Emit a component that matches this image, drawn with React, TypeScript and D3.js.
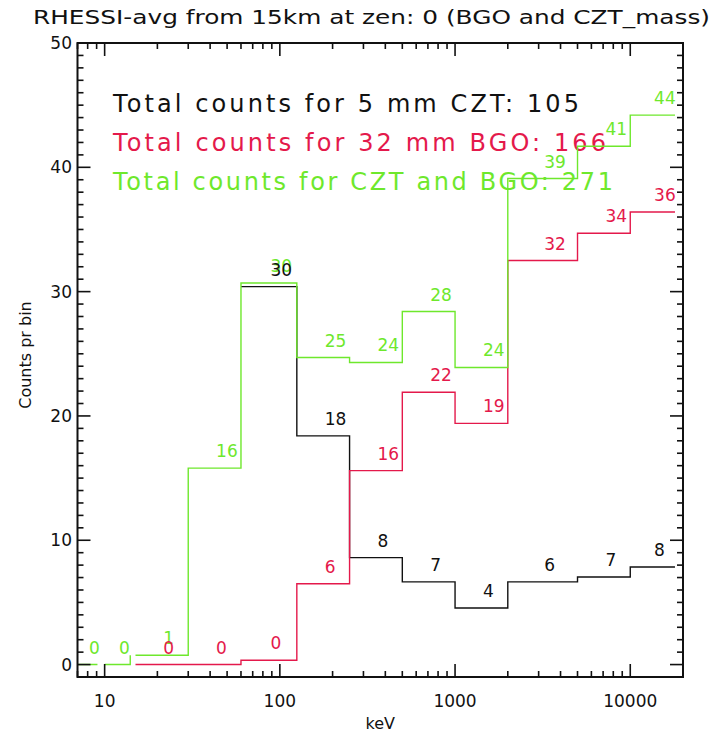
import React from 'react';
import * as d3 from 'd3';

// Energy bins (keV)
const binLo = [7, 10, 15, 30, 60, 125, 250, 500, 1000, 2000, 5000, 10000];
const binHi = [9.1, 14, 30, 60, 125, 250, 500, 1000, 2000, 5000, 10000, 18000];

// Counts per bin
const cztCounts: (number | null)[] = [null, null, null, null, 30.4, 18.4, 8.6, 6.65, 4.55, 6.65, 7.05, 7.85];
const bgoCounts: (number | null)[] = [null, null, 0, 0, 0.35, 6.5, 15.6, 21.9, 19.4, 32.5, 34.7, 36.4];
const sumCounts: (number | null)[] = [0, 0, 0.75, 15.8, 30.7, 24.7, 24.3, 28.4, 23.9, 39.1, 41.7, 44.2];

// Labels written above each bin
const cztLabels: (string | null)[] = [null, null, null, null, '30', '18', '8', '7', '4', '6', '7', '8'];
const bgoLabels: (string | null)[] = [null, null, '0', '0', '0', '6', '16', '22', '19', '32', '34', '36'];
const sumLabels: (string | null)[] = ['0', '0', '1', '16', '30', '25', '24', '28', '24', '39', '41', '44'];

const legendLines = [
  'Total counts for 5 mm CZT: 105',
  'Total counts for 32 mm BGO: 166',
  'Total counts for CZT and BGO: 271',
];
const legendWidths = [466, 493, 500];

const titleText = 'RHESSI-avg from 15km at zen: 0 (BGO and CZT_mass)';
const xTickLabels = [10, 100, 1000, 10000];
const yTickLabels = [0, 10, 20, 30, 40, 50];

const BLACK = '#111111';
const RED = '#e4194b';
const GREEN = '#6ee82c';
const FONT = '"DejaVu Sans", sans-serif';

const W = 723;
const H = 734;
const L = 77.5;
const R = 683;
const T = 43;
const B = 677;

export default function App() {
  const x = d3.scaleLog().domain([7, 20000]).range([L, R]);
  const y = d3.scaleLinear().domain([-1, 50]).range([B, T]);

  const stepPath = (vals: (number | null)[]) => {
    let d = '';
    let started = false;
    for (let i = 0; i < vals.length; i++) {
      const v = vals[i];
      if (v === null) continue;
      if (!started) {
        d += `M${x(binLo[i])},${y(v)}`;
        started = true;
      }
      d += `L${x(binHi[i])},${y(v)}`;
      const nv = i + 1 < vals.length ? vals[i + 1] : null;
      if (nv !== null && nv !== undefined) {
        d += `L${x(binHi[i])},${y(nv)}`;
        if (binLo[i + 1] !== binHi[i]) d += `M${x(binLo[i + 1])},${y(nv)}`;
      }
    }
    return d;
  };

  const labelEls = (vals: (number | null)[], labels: (string | null)[], color: string, key: string) =>
    labels.map((lab, i) => {
      const v = vals[i];
      if (lab === null || v === null) return null;
      const cx = x(Math.sqrt(binLo[i] * binHi[i])) + 1.5;
      return (
        <text key={key + i} x={cx} y={y(v) - 11} fill={color} fontSize={17} fontFamily={FONT}>
          {lab}
        </text>
      );
    });

  const xTicks = x.ticks();
  const isMajorX = (t: number) => Math.abs(Math.log10(t) - Math.round(Math.log10(t))) < 1e-9;
  const yTicks = d3.range(-1, 51);

  return (
    <svg width={W} height={H} style={{ position: 'absolute', left: 0, top: 0, background: '#fff' }}>
      <rect x={0} y={0} width={W} height={H} fill="#fff" />
      <text x={(33 + 710) / 2} y={24} textAnchor="middle" fontSize={19} fontFamily={FONT} fill={BLACK}
        textLength={677} lengthAdjust="spacingAndGlyphs">
        {titleText}
      </text>

      <defs>
        <clipPath id="plotclip">
          <rect x={L} y={T} width={R - L} height={B - T} />
        </clipPath>
      </defs>

      {/* legend text */}
      {legendLines.map((s, i) => (
        <text key={'lg' + i} x={113} y={112 + i * 39} fontSize={24} fontFamily={FONT}
          fill={[BLACK, RED, GREEN][i]} textLength={legendWidths[i]} lengthAdjust="spacing">
          {s}
        </text>
      ))}

      <g clipPath="url(#plotclip)" fill="none" strokeWidth={1.4}>
        <path d={stepPath(cztCounts)} stroke={BLACK} />
        <path d={stepPath(bgoCounts)} stroke={RED} />
        <path d={stepPath(sumCounts)} stroke={GREEN} />
      </g>

      {labelEls(sumCounts, sumLabels, GREEN, 'g')}
      {labelEls(bgoCounts, bgoLabels, RED, 'r')}
      {labelEls(cztCounts, cztLabels, BLACK, 'b')}

      {/* axes frame */}
      <rect x={L} y={T} width={R - L} height={B - T} fill="none" stroke={BLACK} strokeWidth={2} />

      {/* x ticks */}
      {xTicks.map((t, i) => {
        const len = isMajorX(t) ? 13 : 6;
        const xx = x(t);
        return (
          <g key={'xt' + i} stroke={BLACK} strokeWidth={1.6}>
            <line x1={xx} x2={xx} y1={B} y2={B - len} />
            <line x1={xx} x2={xx} y1={T} y2={T + len} />
          </g>
        );
      })}
      {xTickLabels.map((t) => (
        <text key={'xl' + t} x={x(t)} y={707} textAnchor="middle" fontSize={17} fontFamily={FONT} fill={BLACK}>
          {t}
        </text>
      ))}
      <text x={(L + R) / 2} y={729} textAnchor="middle" fontSize={16} fontFamily={FONT} fill={BLACK}>keV</text>

      {/* y ticks */}
      {yTicks.map((t) => {
        const len = t % 10 === 0 ? 13 : 6;
        const yy = y(t);
        return (
          <g key={'yt' + t} stroke={BLACK} strokeWidth={1.6}>
            <line x1={L} x2={L + len} y1={yy} y2={yy} />
            <line x1={R} x2={R - len} y1={yy} y2={yy} />
          </g>
        );
      })}
      {yTickLabels.map((t) => (
        <text key={'yl' + t} x={72} y={y(t) + 6} textAnchor="end" fontSize={17} fontFamily={FONT} fill={BLACK}>
          {t}
        </text>
      ))}
      <text transform={`translate(31,${355}) rotate(-90)`} textAnchor="middle" fontSize={16} fontFamily={FONT} fill={BLACK}>
        Counts pr bin
      </text>
    </svg>
  );
}
